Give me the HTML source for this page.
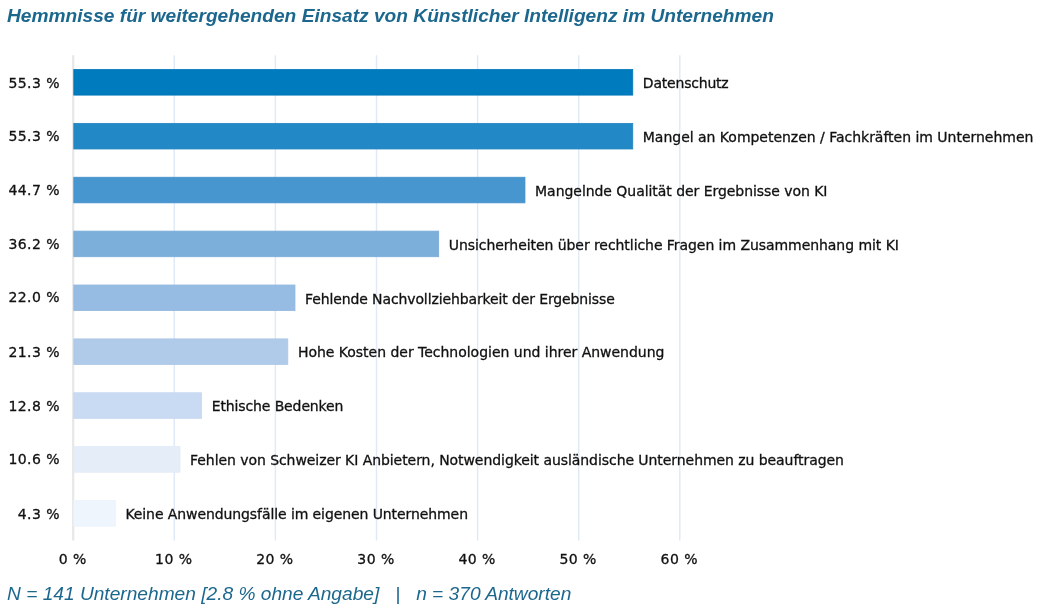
<!DOCTYPE html>
<html lang="de"><head><meta charset="utf-8"><title>Hemmnisse KI</title>
<style>
html,body{margin:0;padding:0;background:#fff;}
body{width:1039px;height:611px;position:relative;overflow:hidden;font-family:"DejaVu Sans","Liberation Sans",sans-serif;color:#111;-webkit-text-stroke:0.3px #111;}
svg{position:absolute;left:0;top:0;}
.title{-webkit-text-stroke:0;position:absolute;left:7px;top:6px;font:italic bold 19.15px/20px "Liberation Sans",sans-serif;color:#1c678e;white-space:nowrap;}
.foot{-webkit-text-stroke:0;position:absolute;left:7px;top:584px;font:italic 19.15px/20px "Liberation Sans",sans-serif;color:#1c678e;white-space:nowrap;}
.pct{position:absolute;left:0;width:60px;text-align:right;font-size:14px;line-height:20px;white-space:nowrap;letter-spacing:0.45px;}
.lab{position:absolute;font-size:14px;line-height:20px;white-space:nowrap;}
.tick{position:absolute;top:549px;width:80px;text-align:center;font-size:14px;line-height:20px;white-space:nowrap;letter-spacing:0.45px;}
</style></head><body>
<div class="title">Hemmnisse für weitergehenden Einsatz von Künstlicher Intelligenz im Unternehmen</div>
<svg width="1039" height="611" viewBox="0 0 1039 611">
<line x1="174.30" x2="174.30" y1="55.2" y2="540.4" stroke="#e0eaf6" stroke-width="1.45"/>
<line x1="275.40" x2="275.40" y1="55.2" y2="540.4" stroke="#e0eaf6" stroke-width="1.45"/>
<line x1="376.50" x2="376.50" y1="55.2" y2="540.4" stroke="#e0eaf6" stroke-width="1.45"/>
<line x1="477.60" x2="477.60" y1="55.2" y2="540.4" stroke="#e0eaf6" stroke-width="1.45"/>
<line x1="578.70" x2="578.70" y1="55.2" y2="540.4" stroke="#e0eaf6" stroke-width="1.45"/>
<line x1="679.80" x2="679.80" y1="55.2" y2="540.4" stroke="#e0eaf6" stroke-width="1.45"/>
<line x1="73.20" x2="73.20" y1="55.2" y2="540.4" stroke="#e7e7e7" stroke-width="2.2"/>
<rect x="73.8" y="69.50" width="558.95" height="25.60" fill="#007bbd" stroke="#0075b8" stroke-width="0.8"/>
<rect x="73.8" y="123.38" width="558.95" height="25.60" fill="#2389c6" stroke="#2084c1" stroke-width="0.8"/>
<rect x="73.8" y="177.25" width="451.15" height="25.60" fill="#4896cf" stroke="#4491ca" stroke-width="0.8"/>
<rect x="73.8" y="231.13" width="364.91" height="25.60" fill="#7dafdb" stroke="#79abd7" stroke-width="0.8"/>
<rect x="73.8" y="285.00" width="221.18" height="25.60" fill="#97bce3" stroke="#93b8df" stroke-width="0.8"/>
<rect x="73.8" y="338.88" width="214.00" height="25.60" fill="#b0cbea" stroke="#acc8e7" stroke-width="0.8"/>
<rect x="73.8" y="392.75" width="127.76" height="25.60" fill="#c9dbf2" stroke="#c5d8ef" stroke-width="0.8"/>
<rect x="73.8" y="446.62" width="106.20" height="25.60" fill="#e5edf8" stroke="#e1eaf6" stroke-width="0.8"/>
<rect x="73.8" y="500.50" width="41.52" height="25.60" fill="#eef5fd" stroke="#ebf3fc" stroke-width="0.8"/>
</svg>
<div class="pct" style="top:73px">55.3 %</div>
<div class="lab" style="top:73px;left:642.8px;letter-spacing:-0.2px">Datenschutz</div>
<div class="pct" style="top:126px">55.3 %</div>
<div class="lab" style="top:127px;left:642.8px;letter-spacing:-0.02px">Mangel an Kompetenzen / Fachkräften im Unternehmen</div>
<div class="pct" style="top:180px">44.7 %</div>
<div class="lab" style="top:181px;left:535.1px;letter-spacing:-0.05px">Mangelnde Qualität der Ergebnisse von KI</div>
<div class="pct" style="top:234px">36.2 %</div>
<div class="lab" style="top:235px;left:448.8px;letter-spacing:-0.06px">Unsicherheiten über rechtliche Fragen im Zusammenhang mit KI</div>
<div class="pct" style="top:287px">22.0 %</div>
<div class="lab" style="top:289px;left:305.1px;letter-spacing:-0.12px">Fehlende Nachvollziehbarkeit der Ergebnisse</div>
<div class="pct" style="top:342px">21.3 %</div>
<div class="lab" style="top:342px;left:297.9px;letter-spacing:-0.02px">Hohe Kosten der Technologien und ihrer Anwendung</div>
<div class="pct" style="top:396px">12.8 %</div>
<div class="lab" style="top:396px;left:211.7px;letter-spacing:-0.12px">Ethische Bedenken</div>
<div class="pct" style="top:449px">10.6 %</div>
<div class="lab" style="top:450px;left:190.1px;letter-spacing:-0.065px">Fehlen von Schweizer KI Anbietern, Notwendigkeit ausländische Unternehmen zu beauftragen</div>
<div class="pct" style="top:504px">4.3 %</div>
<div class="lab" style="top:504px;left:125.4px;letter-spacing:-0.09px">Keine Anwendungsfälle im eigenen Unternehmen</div>
<div class="tick" style="left:32.7px">0 %</div>
<div class="tick" style="left:133.8px">10 %</div>
<div class="tick" style="left:234.9px">20 %</div>
<div class="tick" style="left:336.0px">30 %</div>
<div class="tick" style="left:437.1px">40 %</div>
<div class="tick" style="left:538.2px">50 %</div>
<div class="tick" style="left:639.3px">60 %</div>
<div class="foot">N = 141 Unternehmen [2.8 % ohne Angabe] &nbsp; | &nbsp; n = 370 Antworten</div>
</body></html>
